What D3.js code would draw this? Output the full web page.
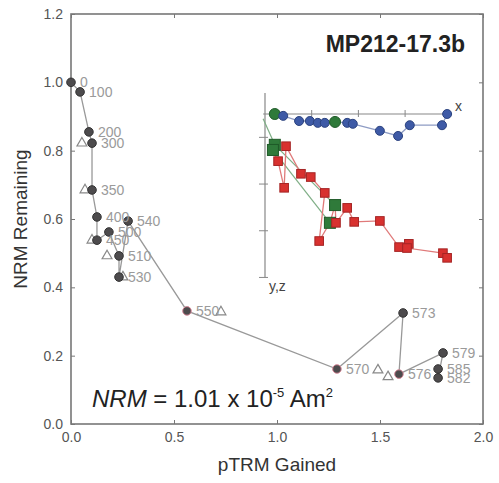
<!DOCTYPE html>
<html><head><meta charset="utf-8">
<script src="https://cdn.jsdelivr.net/npm/d3@7"></script>
<style>body{margin:0;background:#fff}svg{font-family:"Liberation Sans",Arial,sans-serif}</style>
</head><body><svg id="c" width="499" height="483"></svg>
<script>
// ---- Arai plot data ----
const steps    = [0,100,200,300,350,400,450,500,510,530,540,550,570,573,576,579,582,585];
const ptrm     = [0.0,0.044,0.087,0.102,0.102,0.126,0.126,0.184,0.233,0.233,0.277,0.563,1.291,1.612,1.592,1.806,1.782,1.782];
const nrm      = [1.0,0.972,0.855,0.822,0.685,0.606,0.538,0.562,0.492,0.430,0.594,0.331,0.161,0.325,0.146,0.208,0.135,0.161];
const checkX   = [0.053,0.068,0.102,0.175,0.252,0.728,1.490,1.539];
const checkY   = [0.822,0.685,0.538,0.492,0.430,0.328,0.158,0.138];
const xTicks   = [0.0,0.5,1.0,1.5,2.0];
const yTicks   = [0.0,0.2,0.4,0.6,0.8,1.0,1.2];
const pinkSteps = [550,570,576];
// ---- Zijderveld inset data (arbitrary units) ----
const zxX = [0.21,0.39,0.73,0.96,1.13,1.28,1.50,1.76,1.88,2.46,2.85,3.10,3.79,3.90];
const zxY = [0.00,0.04,0.15,0.15,0.19,0.19,0.17,0.19,0.21,0.36,0.47,0.24,0.24,0.00];
const zrX = [0.21,0.17,0.28,0.41,0.45,0.77,0.98,1.28,1.16,1.39,1.50,1.52,1.76,1.91,2.46,2.87,3.08,3.04,3.81,3.90];
const zrZ = [0.66,0.77,1.01,1.58,0.69,1.28,1.35,1.69,2.72,2.33,1.95,2.33,2.01,2.31,2.29,2.85,2.78,2.87,2.98,3.08];
const greenBlue = [0,6];
const greenRed  = [0,1,9,10];
const zTicksH = [1,2,3];
const zTicksV = [0.5,1.5,2.5];

const svg = d3.select("#c");
const L=71,R=483,T=14,B=424;
const x = d3.scaleLinear().domain([0,2]).range([L,R]);
const y = d3.scaleLinear().domain([0,1.2]).range([B,T]);
const axisCol="#777", tickTxt="#555";

// axes
const gx = svg.append("g").attr("transform",`translate(0,${B})`)
  .call(d3.axisBottom(x).tickValues(xTicks).tickFormat(d3.format(".1f")).tickSizeInner(-4).tickSizeOuter(0).tickPadding(8));
const gy = svg.append("g").attr("transform",`translate(${L},0)`)
  .call(d3.axisLeft(y).tickValues(yTicks).tickFormat(d3.format(".1f")).tickSizeInner(-4).tickSizeOuter(0).tickPadding(8));
const gt = svg.append("g").attr("transform",`translate(0,${T})`)
  .call(d3.axisTop(x).tickValues(xTicks).tickFormat("").tickSizeInner(-4).tickSizeOuter(0));
const gr = svg.append("g").attr("transform",`translate(${R},0)`)
  .call(d3.axisRight(y).tickValues(yTicks).tickFormat("").tickSizeInner(-4).tickSizeOuter(0));
[gx,gy,gt,gr].forEach(g=>{
  g.select(".domain").remove();
  g.selectAll(".tick line").attr("stroke",axisCol).attr("stroke-width",1);
  g.selectAll(".tick text").attr("fill",tickTxt).attr("font-size",14);
});
svg.append("rect").attr("x",L).attr("y",T).attr("width",R-L).attr("height",B-T)
  .attr("fill","none").attr("stroke",axisCol).attr("stroke-width",1.6);

svg.append("text").attr("x",(L+R)/2).attr("y",471).attr("text-anchor","middle")
  .attr("font-size",19).attr("fill","#333").text("pTRM Gained");
svg.append("text").attr("transform",`translate(27,${(T+B)/2}) rotate(-90)`).attr("text-anchor","middle")
  .attr("font-size",19).attr("fill","#333").text("NRM Remaining");

// title
svg.append("text").attr("x",465).attr("y",52).attr("text-anchor","end")
  .attr("font-size",23).attr("font-weight","bold").attr("fill","#222").text("MP212-17.3b");

// NRM annotation
const nt = svg.append("text").attr("x",92).attr("y",407).attr("font-size",24).attr("fill","#222");
nt.append("tspan").attr("font-style","italic").text("NRM");
nt.append("tspan").text(" = 1.01 x 10");
nt.append("tspan").attr("font-size",13).attr("dy",-10).text("-5");
nt.append("tspan").attr("dy",10).text(" Am");
nt.append("tspan").attr("font-size",13).attr("dy",-10).text("2");

// Arai line
const pts = steps.map((s,i)=>({s, x:ptrm[i], y:nrm[i]}));
svg.append("path").datum(pts)
  .attr("d",d3.line().x(d=>x(d.x)).y(d=>y(d.y)))
  .attr("fill","none").attr("stroke","#999").attr("stroke-width",1.3);

// checks (triangles)
const tri = d3.symbol().type(d3.symbolTriangle).size(42);
svg.append("g").selectAll("path").data(checkX.map((v,i)=>[v,checkY[i]])).join("path")
  .attr("d",tri).attr("transform",d=>`translate(${x(d[0])},${y(d[1])})`)
  .attr("fill","#fff").attr("stroke","#888").attr("stroke-width",1.2);

// points
svg.append("g").selectAll("circle").data(pts).join("circle")
  .attr("cx",d=>x(d.x)).attr("cy",d=>y(d.y)).attr("r",4.3)
  .attr("fill","#4d4b4d").attr("stroke",d=>pinkSteps.includes(d.s)?"#d98a9a":"#333").attr("stroke-width",1);

// labels
svg.append("g").selectAll("text").data(pts).join("text")
  .attr("x",d=>x(d.x)+9).attr("y",d=>y(d.y)+5)
  .attr("font-size",14).attr("fill","#9a9a9a").text(d=>d.s);

// ---- Zijderveld inset ----
const u0=265, v0=114, unit=46.7;
const zx = d3.scaleLinear().domain([0,1]).range([u0,u0+unit]);
const zy = d3.scaleLinear().domain([0,1]).range([v0,v0+unit]);
const zc="#888";
svg.append("line").attr("x1",zx(-0.04)).attr("x2",zx(3.9)).attr("y1",zy(0)).attr("y2",zy(0)).attr("stroke",zc).attr("stroke-width",1.2);
svg.append("line").attr("x1",zx(0)).attr("x2",zx(0)).attr("y1",zy(-0.45)).attr("y2",zy(3.5)).attr("stroke",zc).attr("stroke-width",1.2);
svg.append("g").selectAll("line").data(zTicksH).join("line")
  .attr("x1",d=>zx(d)).attr("x2",d=>zx(d)).attr("y1",zy(0)-4).attr("y2",zy(0)+3).attr("stroke",zc);
svg.append("g").selectAll("line").data(zTicksV.concat([3.5])).join("line")
  .attr("x1",zx(0)-6).attr("x2",zx(0)+3).attr("y1",d=>zy(d)).attr("y2",d=>zy(d)).attr("stroke",zc);
svg.append("text").attr("x",455).attr("y",111).attr("font-size",14).attr("fill","#444").text("x");
svg.append("text").attr("x",269).attr("y",291).attr("font-size",14).attr("fill","#444").text("y,z");

// green fit lines
const gl = "#7fae86";
svg.append("line").attr("x1",zx(-0.04)).attr("y1",zy(0.1)).attr("x2",zx(0.21)).attr("y2",zy(0.66)).attr("stroke",gl).attr("stroke-width",1.2);
svg.append("line").attr("x1",zx(zrX[1])).attr("y1",zy(zrZ[1])).attr("x2",zx(zrX[9])).attr("y2",zy(zrZ[9])).attr("stroke",gl).attr("stroke-width",1.2);
svg.append("line").attr("x1",zx(zrX[0])).attr("y1",zy(zrZ[0])).attr("x2",zx(zrX[10])).attr("y2",zy(zrZ[10])).attr("stroke",gl).attr("stroke-width",1.2);

const bl = zxX.map((v,i)=>[v,zxY[i]]);
const rd = zrX.map((v,i)=>[v,zrZ[i]]);
svg.append("path").datum(bl).attr("d",d3.line().x(d=>zx(d[0])).y(d=>zy(d[1])))
  .attr("fill","none").attr("stroke","#8e9cc4").attr("stroke-width",1.3);
svg.append("path").datum(rd).attr("d",d3.line().x(d=>zx(d[0])).y(d=>zy(d[1])))
  .attr("fill","none").attr("stroke","#e07a7a").attr("stroke-width",1.3);

svg.append("g").selectAll("circle").data(bl).join("circle")
  .attr("cx",d=>zx(d[0])).attr("cy",d=>zy(d[1]))
  .attr("r",(d,i)=>greenBlue.includes(i)?5.5:4.5)
  .attr("fill",(d,i)=>greenBlue.includes(i)?"#2f7a3a":"#3e5aa6")
  .attr("stroke",(d,i)=>greenBlue.includes(i)?"#1f5a28":"#2c437f");
svg.append("g").selectAll("rect").data(rd).join("rect")
  .attr("x",(d,i)=>zx(d[0])-(greenRed.includes(i)?5.5:4.3))
  .attr("y",(d,i)=>zy(d[1])-(greenRed.includes(i)?5.5:4.3))
  .attr("width",(d,i)=>greenRed.includes(i)?11:8.6)
  .attr("height",(d,i)=>greenRed.includes(i)?11:8.6)
  .attr("fill",(d,i)=>greenRed.includes(i)?"#2f7a3a":"#d8312f")
  .attr("stroke",(d,i)=>greenRed.includes(i)?"#1f5a28":"#a52525");
</script></body></html>
